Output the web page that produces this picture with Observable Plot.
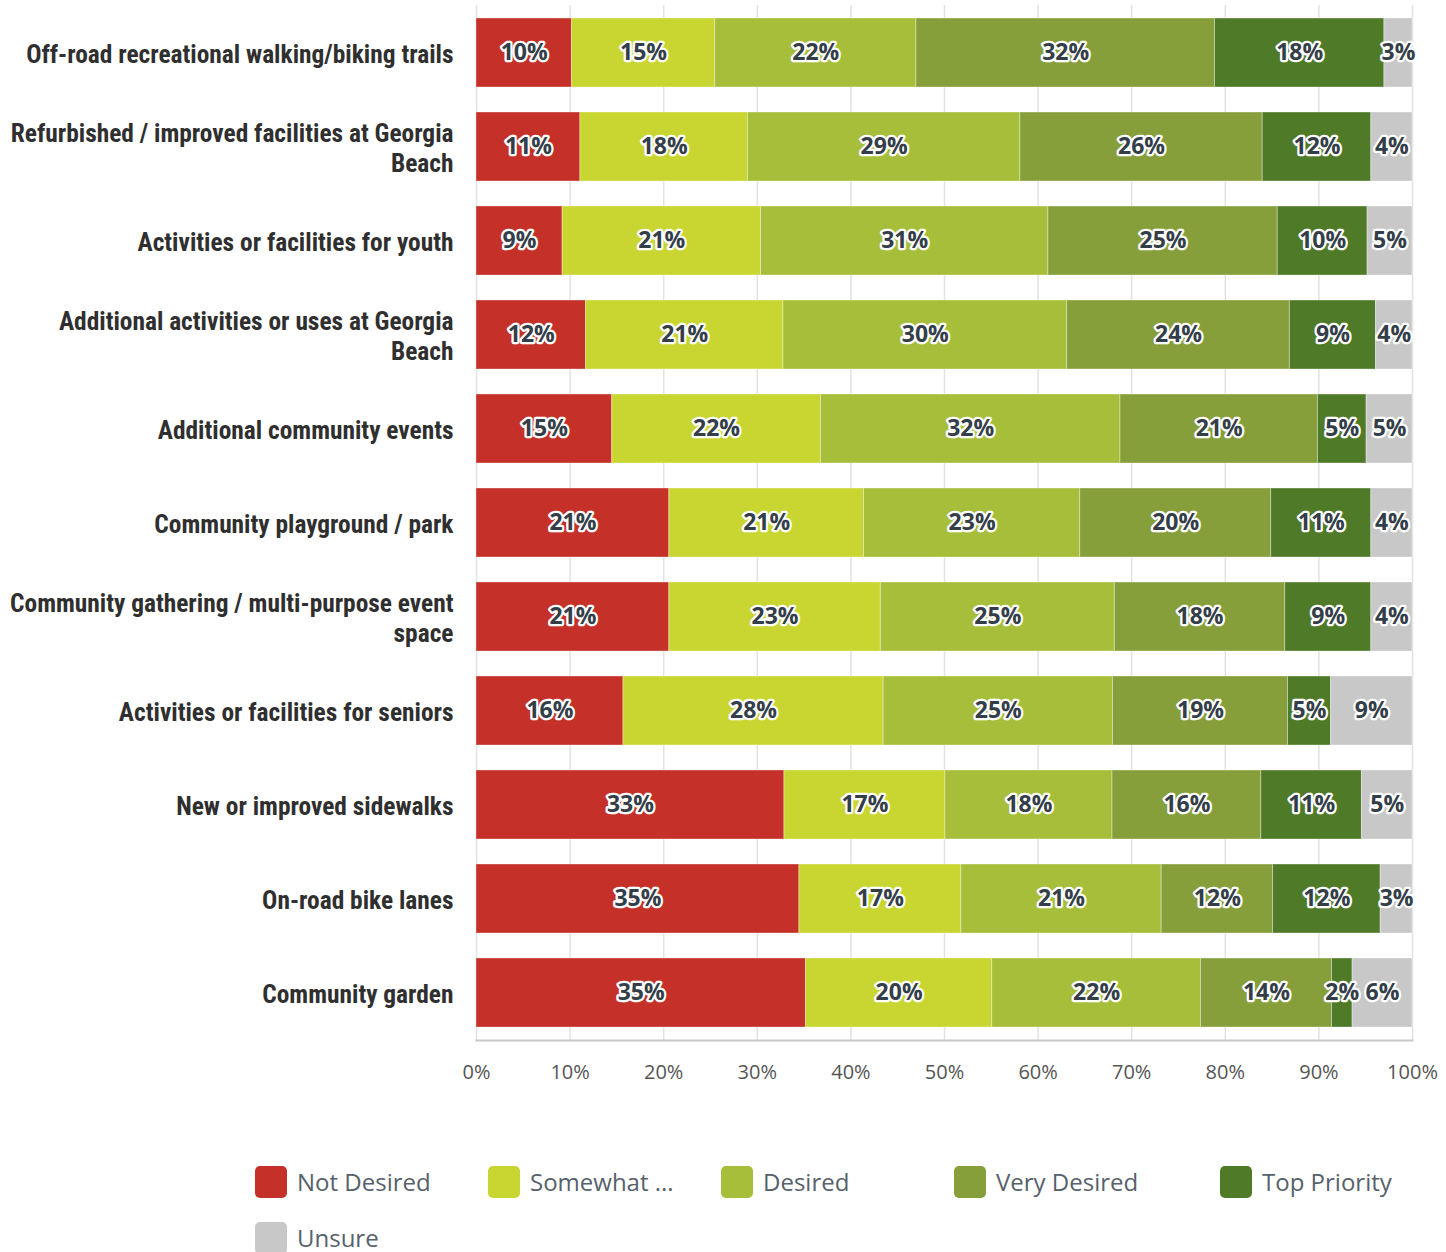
<!DOCTYPE html>
<html>
<head>
<meta charset="utf-8">
<script src="https://cdn.jsdelivr.net/npm/d3@7"></script>
<script src="https://cdn.jsdelivr.net/npm/@observablehq/plot@0.6"></script>
<style>
  html, body { margin: 0; padding: 0; background: #fff; }
  #wrap { position: relative; width: 1446px; height: 1252px; overflow: hidden; }
  g[aria-label="y-axis tick label"] { font-family: "Roboto Condensed", "Liberation Sans Narrow", "DejaVu Sans Condensed", Roboto, sans-serif; }
  .legend-item { position: absolute; display: flex; align-items: center; font-family: "Open Sans", sans-serif; font-size: 24px; color: #56616b; }
  .swatch { width: 32px; height: 32px; border-radius: 5px; margin-right: 10px; }
</style>
</head>
<body>
<div id="wrap"></div>
<script>
const categories = [
  "Off-road recreational walking/biking trails",
  "Refurbished / improved facilities at Georgia Beach",
  "Activities or facilities for youth",
  "Additional activities or uses at Georgia Beach",
  "Additional community events",
  "Community playground / park",
  "Community gathering / multi-purpose event space",
  "Activities or facilities for seniors",
  "New or improved sidewalks",
  "On-road bike lanes",
  "Community garden"
];
const wrappedLabels = {
  "Refurbished / improved facilities at Georgia Beach": "Refurbished / improved facilities at Georgia\nBeach",
  "Additional activities or uses at Georgia Beach": "Additional activities or uses at Georgia\nBeach",
  "Community gathering / multi-purpose event space": "Community gathering / multi-purpose event\nspace"
};
const responses = ["Not Desired", "Somewhat Desired", "Desired", "Very Desired", "Top Priority", "Unsure"];
const legendLabels = ["Not Desired", "Somewhat ...", "Desired", "Very Desired", "Top Priority", "Unsure"];
const colors = ["#c53028", "#c9d631", "#a6be3a", "#879f3a", "#4f7a28", "#c8c8c8"];

// percent of respondents, per category (same order as categories)
const notDesired      = [10.2, 11.1,  9.2, 11.7, 14.5, 20.6, 20.6, 15.7, 32.9, 34.5, 35.2];
const somewhatDesired = [15.3, 17.9, 21.2, 21.1, 22.3, 20.8, 22.6, 27.8, 17.2, 17.3, 19.9];
const desired         = [21.5, 29.1, 30.7, 30.3, 32.0, 23.1, 25.0, 24.5, 17.85, 21.4, 22.3];
const veryDesired     = [31.9, 25.9, 24.5, 23.8, 21.1, 20.4, 18.2, 18.7, 15.9, 11.9, 14.0];
const topPriority     = [18.1, 11.6,  9.6,  9.2,  5.2, 10.7,  9.2,  4.6, 10.75, 11.5, 2.2];
const unsure          = [ 3.0,  4.4,  4.8,  3.9,  4.9,  4.4,  4.4,  8.7,  5.4,  3.4,  6.4];
const xTicks = [0, 10, 20, 30, 40, 50, 60, 70, 80, 90, 100];

const series = [notDesired, somewhatDesired, desired, veryDesired, topPriority, unsure];
const rows = categories.flatMap((c, i) =>
  responses.map((r, j) => ({category: c, response: r, value: series[j][i]})));

const labelOpts = {
  x: "value", y: "category", z: "response", order: responses,
  text: d => Math.round(d.value) + "%",
  fontSize: 23, fontWeight: 700
};

const chart = Plot.plot({
  width: 1446,
  height: 1100,
  marginLeft: 476,
  marginRight: 34,
  marginTop: 5,
  marginBottom: 60,
  style: {fontFamily: "'Open Sans', sans-serif", background: "#fff"},
  x: {domain: [0, 100]},
  y: {domain: categories, paddingInner: 0.27, paddingOuter: 0.135},
  color: {domain: responses, range: colors},
  marks: [
    Plot.gridX(xTicks, {stroke: "#e2e2e2", strokeOpacity: 1, strokeWidth: 1.5}),
    Plot.barX(rows, Plot.stackX({
      x: "value", y: "category", fill: "response", order: responses,
      stroke: "#ffffff", strokeOpacity: 0.35, strokeWidth: 1
    })),
    // white halo
    Plot.text(rows, Plot.stackX({
      ...labelOpts, fill: "#ffffff", stroke: "#ffffff", strokeWidth: 4.5, strokeLinejoin: "round"
    })),
    // dark label on top
    Plot.text(rows, Plot.stackX({...labelOpts, fill: "#333e48"})),
    Plot.axisX(xTicks, {
      tickSize: 0, tickPadding: 24, tickFormat: d => d + "%",
      fontSize: 20, fill: "#555", label: null
    }),
    Plot.axisY({
      tickSize: 0, tickPadding: 23, label: null,
      tickFormat: d => wrappedLabels[d] ?? d,
      fontSize: 25.4, fontWeight: 700, fill: "#2f2f2f", lineHeight: 1.18,
      fontFamily: "'Roboto Condensed', 'Liberation Sans Narrow', 'DejaVu Sans Condensed', Roboto, sans-serif"
    }),
    Plot.frame({anchor: "bottom", stroke: "#c8c8c8", strokeWidth: 2})
  ]
});

const wrap = document.getElementById("wrap");
wrap.appendChild(chart);

// legend
const legendPos = [
  {left: 255, top: 1165}, {left: 488, top: 1165}, {left: 721, top: 1165},
  {left: 954, top: 1165}, {left: 1220, top: 1165}, {left: 255, top: 1221}
];
responses.forEach((r, i) => {
  const item = document.createElement("div");
  item.className = "legend-item";
  item.style.left = legendPos[i].left + "px";
  item.style.top = legendPos[i].top + "px";
  const sw = document.createElement("div");
  sw.className = "swatch";
  sw.style.background = colors[i];
  const tx = document.createElement("span");
  tx.textContent = legendLabels[i];
  item.appendChild(sw);
  item.appendChild(tx);
  wrap.appendChild(item);
});
</script>
</body>
</html>
